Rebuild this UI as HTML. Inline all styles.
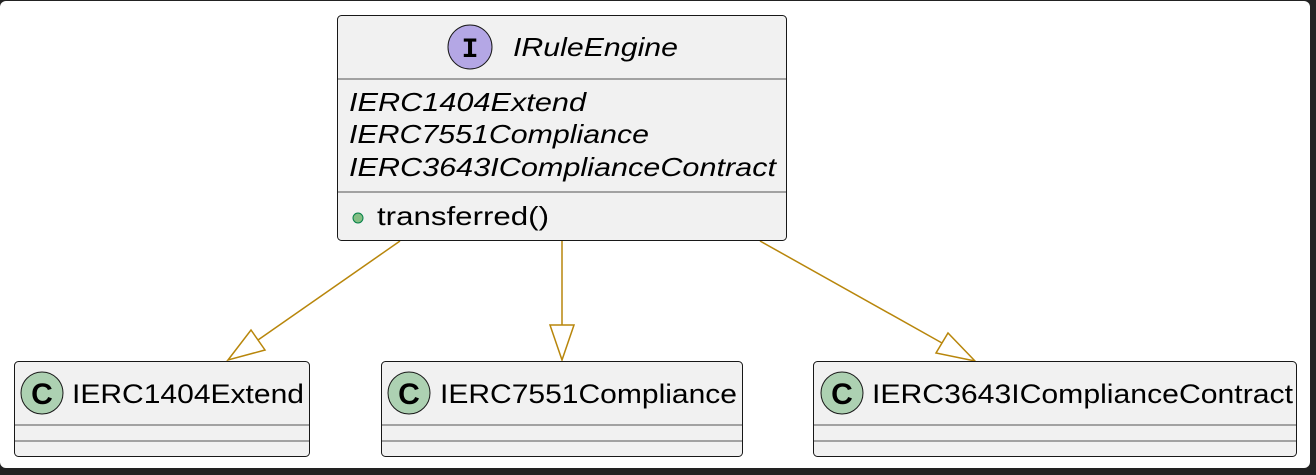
<!DOCTYPE html>
<html><head><style>body{margin:0;background:#fff}svg{display:block}</style></head><body>
<svg width="1316" height="475" xmlns="http://www.w3.org/2000/svg" font-family="'Liberation Sans',sans-serif">
<rect x="0" y="0" width="1316" height="475" fill="#222"/>
<rect x="0" y="1" width="1310" height="467" rx="6" fill="#fff"/>
<g stroke="#b8860b" stroke-width="1.5" fill="none">
<line x1="400" y1="241" x2="258" y2="340"/>
<polygon points="228,360 251,330 265,350"/>
<line x1="562" y1="241" x2="562" y2="325"/>
<polygon points="562,360 550,325 574,325"/>
<line x1="760" y1="241" x2="942" y2="343"/>
<polygon points="975,361 936,353 948,333"/>
</g>
<rect x="337.5" y="15.5" width="449" height="225" rx="4" fill="#f1f1f1" stroke="#181818"/>
<line x1="338" y1="79" x2="786" y2="79" stroke="#888" stroke-width="1.5"/>
<line x1="338" y1="192" x2="786" y2="192" stroke="#888" stroke-width="1.5"/>
<circle cx="470" cy="47" r="22" fill="#b4a7e5" stroke="#181818"/>
<text x="470" y="57" text-anchor="middle" font-size="28" font-weight="bold" font-family="'Liberation Mono',monospace">I</text>
<g lengthAdjust="spacingAndGlyphs">
<text x="513" y="56" font-size="26" font-style="italic" textLength="165" lengthAdjust="spacingAndGlyphs">IRuleEngine</text>
<g font-size="26" font-style="italic">
<text x="349" y="111" textLength="237" lengthAdjust="spacingAndGlyphs">IERC1404Extend</text>
<text x="349" y="143" textLength="300" lengthAdjust="spacingAndGlyphs">IERC7551Compliance</text>
<text x="349" y="176" textLength="427" lengthAdjust="spacingAndGlyphs">IERC3643IComplianceContract</text>
</g>
<circle cx="358" cy="218" r="5" fill="#84be84" stroke="#038048"/>
<text x="377" y="225" font-size="26" textLength="172" lengthAdjust="spacingAndGlyphs">transferred()</text>
</g>
<g>
<rect x="14.5" y="361.5" width="295" height="95" rx="4" fill="#f1f1f1" stroke="#181818"/>
<rect x="381.5" y="361.5" width="361" height="95" rx="4" fill="#f1f1f1" stroke="#181818"/>
<rect x="813.5" y="361.5" width="483" height="95" rx="4" fill="#f1f1f1" stroke="#181818"/>
<g stroke="#888" stroke-width="1.5">
<line x1="15" y1="425" x2="309" y2="425"/><line x1="15" y1="441" x2="309" y2="441"/>
<line x1="382" y1="425" x2="742" y2="425"/><line x1="382" y1="441" x2="742" y2="441"/>
<line x1="814" y1="425" x2="1296" y2="425"/><line x1="814" y1="441" x2="1296" y2="441"/>
</g>
<g fill="#add1b2" stroke="#181818">
<circle cx="42" cy="393" r="21"/><circle cx="409" cy="393" r="21"/><circle cx="842" cy="393" r="21"/>
</g>
<g font-size="30" font-weight="bold" text-anchor="middle">
<text x="42" y="404">C</text><text x="409" y="404">C</text><text x="842" y="404">C</text>
</g>
<g font-size="27">
<text x="72" y="403" textLength="232" lengthAdjust="spacingAndGlyphs">IERC1404Extend</text>
<text x="440" y="403" textLength="297" lengthAdjust="spacingAndGlyphs">IERC7551Compliance</text>
<text x="872" y="403" textLength="421" lengthAdjust="spacingAndGlyphs">IERC3643IComplianceContract</text>
</g>
</g>
</svg>
</body></html>
